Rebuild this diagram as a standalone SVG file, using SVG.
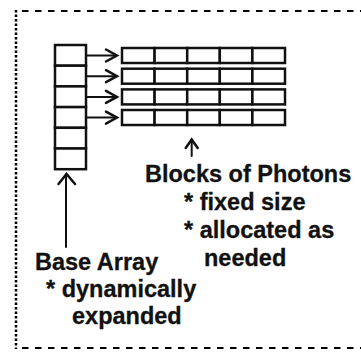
<svg xmlns="http://www.w3.org/2000/svg" width="361" height="358" viewBox="0 0 361 358">
<style>
.cell{fill:#fff;stroke:#111;stroke-width:2.5}
.ln{fill:none;stroke:#111;stroke-width:2;stroke-linecap:round;stroke-linejoin:round}
.hd{fill:none;stroke:#111;stroke-width:2.5;stroke-linecap:round;stroke-linejoin:miter}
.t{font-family:"Liberation Sans",Arial,sans-serif;font-weight:bold;font-size:23.5px;fill:#111;stroke:#111;stroke-width:0.3}
.dash{stroke:#000;stroke-width:2;fill:none;stroke-dasharray:6.5 6.5}
.dot{stroke:#000;stroke-width:2.5;fill:none;stroke-dasharray:2.5 2}
</style>
<g id="frame">
<line class="dash" x1="22" y1="11" x2="361" y2="11"/>
<line class="dash" x1="22" y1="348" x2="361" y2="348"/>
<line class="dot" x1="16" y1="10" x2="16" y2="349"/>
</g>
<g id="base-array">
<rect class="cell" x="55" y="45" width="31" height="20.7"/>
<rect class="cell" x="55" y="65.7" width="31" height="20.7"/>
<rect class="cell" x="55" y="86.4" width="31" height="20.7"/>
<rect class="cell" x="55" y="107.1" width="31" height="20.7"/>
<rect class="cell" x="55" y="127.8" width="31" height="20.7"/>
<rect class="cell" x="55" y="148.5" width="31" height="20.7"/>
</g>
<g id="blocks">
<g id="block1">
<rect class="cell" x="122" y="48" width="32.6" height="15"/>
<rect class="cell" x="154.6" y="48" width="32.6" height="15"/>
<rect class="cell" x="187.2" y="48" width="32.6" height="15"/>
<rect class="cell" x="219.8" y="48" width="32.6" height="15"/>
<rect class="cell" x="252.4" y="48" width="32.6" height="15"/>
</g>
<g id="block2">
<rect class="cell" x="122" y="68.7" width="32.6" height="15"/>
<rect class="cell" x="154.6" y="68.7" width="32.6" height="15"/>
<rect class="cell" x="187.2" y="68.7" width="32.6" height="15"/>
<rect class="cell" x="219.8" y="68.7" width="32.6" height="15"/>
<rect class="cell" x="252.4" y="68.7" width="32.6" height="15"/>
</g>
<g id="block3">
<rect class="cell" x="122" y="89.4" width="32.6" height="15"/>
<rect class="cell" x="154.6" y="89.4" width="32.6" height="15"/>
<rect class="cell" x="187.2" y="89.4" width="32.6" height="15"/>
<rect class="cell" x="219.8" y="89.4" width="32.6" height="15"/>
<rect class="cell" x="252.4" y="89.4" width="32.6" height="15"/>
</g>
<g id="block4">
<rect class="cell" x="122" y="110" width="32.6" height="15"/>
<rect class="cell" x="154.6" y="110" width="32.6" height="15"/>
<rect class="cell" x="187.2" y="110" width="32.6" height="15"/>
<rect class="cell" x="219.8" y="110" width="32.6" height="15"/>
<rect class="cell" x="252.4" y="110" width="32.6" height="15"/>
</g>
</g>
<g id="labels">
<text class="t" x="145" y="182">Blocks of Photons</text>
<text class="t" x="184" y="210">* fixed size</text>
<text class="t" x="184" y="238">* allocated as</text>
<text class="t" x="204" y="266">needed</text>
<text class="t" x="35" y="270">Base Array</text>
<text class="t" x="46" y="297">* dynamically</text>
<text class="t" x="72" y="324">expanded</text>
</g>
<g id="connectors">
<path class="ln" d="M86 55.5H116"/><path class="hd" d="M106 49.5L117 55.5L106 61.5"/>
<path class="ln" d="M86 76.2H116"/><path class="hd" d="M106 70.2L117 76.2L106 82.2"/>
<path class="ln" d="M86 96.9H116"/><path class="hd" d="M106 90.9L117 96.9L106 102.9"/>
<path class="ln" d="M86 117.6H116"/><path class="hd" d="M106 111.6L117 117.6L106 123.6"/>
<path class="ln" d="M191.7 156V141"/><path class="hd" d="M185.7 148L191.7 139.5L197.7 148"/>
<path class="ln" d="M66 247V175"/><path class="hd" d="M58.5 184L66.5 174L75 184"/>
</g>
</svg>
